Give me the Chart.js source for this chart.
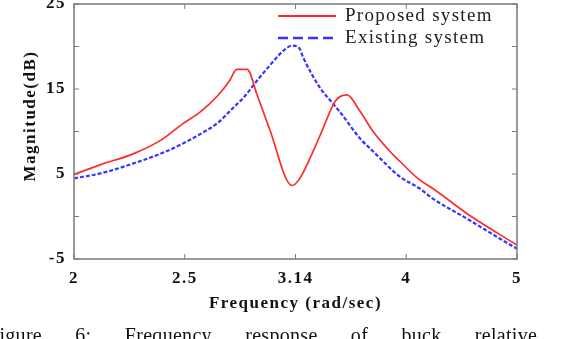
<!DOCTYPE html>
<html><head><meta charset="utf-8">
<script src="https://cdn.jsdelivr.net/npm/chart.js@4/dist/chart.umd.min.js"></script>
<style>
html,body{margin:0;padding:0;background:#fff;overflow:hidden;width:564px;height:339px;}
#wrap{position:relative;width:564px;height:339px;overflow:hidden;}
#caption{position:absolute;left:-12px;top:324px;font:20px "Liberation Serif",serif;color:#111;white-space:nowrap;word-spacing:28px;letter-spacing:0.3px;}
</style></head><body>
<div id="wrap"><canvas id="c" width="564" height="339"></canvas><div id="caption">Figure 6: Frequency response of buck relative</div></div>
<script>
// x-axis tick labels (equally spaced on the axis)
const tickLabels = ['2', '2.5', '3.14', '4', '5'];
const tickFreqs = [2, 2.5, 3.14, 4, 5];
const seriesNames = ['Proposed system', 'Existing system'];

const proposedFreq = [2.00, 2.12, 2.27, 2.40, 2.49, 2.59, 2.69, 2.76, 2.80, 2.86, 2.92, 2.99, 3.12, 3.17, 3.33, 3.45, 3.54, 3.64, 3.74, 3.87, 3.95, 4.12, 4.24, 4.55, 4.85, 5.00];
const proposedMag  = [4.95, 6.1, 7.4, 9.1, 10.9, 12.3, 14.2, 16.0, 17.3, 17.3, 14.2, 10.3, 3.65, 4.4, 9.5, 13.6, 14.3, 12.4, 10.05, 7.7, 6.5, 4.3, 3.3, 0.33, -2.16, -3.35];

const existingFreq = [2.00, 2.12, 2.27, 2.42, 2.51, 2.59, 2.69, 2.78, 2.84, 2.93, 2.98, 3.07, 3.12, 3.17, 3.20, 3.33, 3.43, 3.48, 3.64, 3.74, 3.95, 4.12, 4.24, 4.55, 4.85, 5.00];
const existingMag  = [4.5, 5.07, 6.26, 7.7, 8.8, 9.7, 11.0, 12.8, 14.0, 16.3, 17.5, 19.5, 20.1, 19.8, 18.7, 15.15, 13.3, 12.4, 9.2, 7.7, 4.7, 3.3, 2.1, -0.27, -2.64, -3.8];

const yMin = -5, yMax = 25, yStep = 5;
const yLabelled = [-5, 5, 15, 25];

// map frequency onto the equally spaced tick axis (piecewise linear between tick values)
function toPos(f) {
  for (let i = 0; i < tickFreqs.length - 1; i++) {
    if (f <= tickFreqs[i + 1]) return i + (f - tickFreqs[i]) / (tickFreqs[i + 1] - tickFreqs[i]);
  }
  return tickFreqs.length - 1;
}
const toPts = (xs, ys) => xs.map((f, i) => ({x: toPos(f), y: ys[i]}));

const RED = '#ff2b2b', BLUE = '#3535ff';
const SERIF = '"Liberation Serif", "Times New Roman", serif';

const framePlugin = {
  id: 'frame',
  beforeDraw(chart) { chart.ctx.letterSpacing = '1.5px'; },
  afterDraw(chart) {
    const {ctx, chartArea: a, scales} = chart;
    ctx.save();
    ctx.letterSpacing = '0px';
    ctx.strokeStyle = '#7a7a7a';
    ctx.lineWidth = 1.5;
    ctx.strokeRect(a.left, a.top, a.right - a.left, a.bottom - a.top);
    ctx.lineWidth = 1;
    const tl = 5;
    scales.x.ticks.forEach(t => {
      const px = scales.x.getPixelForValue(t.value);
      ctx.beginPath();
      ctx.moveTo(px, a.bottom); ctx.lineTo(px, a.bottom - tl);
      ctx.moveTo(px, a.top); ctx.lineTo(px, a.top + tl);
      ctx.stroke();
    });
    scales.y.ticks.forEach(t => {
      const py = scales.y.getPixelForValue(t.value);
      ctx.beginPath();
      ctx.moveTo(a.left, py); ctx.lineTo(a.left + tl, py);
      ctx.moveTo(a.right, py); ctx.lineTo(a.right - tl, py);
      ctx.stroke();
    });
    // y-axis title
    ctx.save();
    ctx.translate(31, 116);
    ctx.rotate(-Math.PI / 2);
    ctx.font = 'bold 17px ' + SERIF;
    ctx.letterSpacing = '1.5px';
    ctx.fillStyle = '#111';
    ctx.textAlign = 'center';
    ctx.textBaseline = 'middle';
    ctx.fillText('Magnitude(dB)', 0, 0);
    ctx.restore();
    // legend
    const ds = chart.data.datasets;
    const rows = [16, 38];
    ctx.font = '19px ' + SERIF;
    ctx.letterSpacing = '1.3px';
    ctx.textBaseline = 'middle';
    ctx.textAlign = 'left';
    ds.forEach((d, i) => {
      ctx.beginPath();
      ctx.strokeStyle = d.borderColor;
      ctx.lineWidth = i === 0 ? 2 : 2.5;
      ctx.setLineDash(i === 0 ? [] : [10, 5]);
      ctx.moveTo(278, rows[i]); ctx.lineTo(336, rows[i]);
      ctx.stroke();
      ctx.setLineDash([]);
      ctx.fillStyle = '#222';
      ctx.fillText(d.label, 345, rows[i] + 0.5);
    });
    ctx.restore();
  }
};

new Chart(document.getElementById('c'), {
  type: 'line',
  data: {
    datasets: [
      {label: seriesNames[0], data: toPts(proposedFreq, proposedMag), borderColor: RED, borderWidth: 1.7, pointRadius: 0, cubicInterpolationMode: 'monotone', fill: false},
      {label: seriesNames[1], data: toPts(existingFreq, existingMag), borderColor: BLUE, borderWidth: 2.2, borderDash: [4, 2], pointRadius: 0, cubicInterpolationMode: 'monotone', fill: false}
    ]
  },
  options: {
    responsive: false,
    animation: false,
    devicePixelRatio: 1,
    layout: {padding: {top: 4, right: 47, left: 0, bottom: 0}},
    plugins: {legend: {display: false}, tooltip: {enabled: false}},
    scales: {
      x: {
        type: 'linear', min: 0, max: tickLabels.length - 1,
        grid: {display: false, drawTicks: false},
        border: {display: false},
        ticks: {stepSize: 1, padding: 9, color: '#111', font: {family: SERIF, size: 17, weight: 'bold'},
          callback: v => tickLabels[v] ?? '', maxRotation: 0, autoSkip: false},
        title: {display: true, text: 'Frequency (rad/sec)', color: '#111', font: {family: SERIF, size: 17, weight: 'bold'}, padding: {top: 0, bottom: 25}},
        afterFit(s) { s.height = 80; s.paddingLeft = 0; s.paddingRight = 0; }
      },
      y: {
        min: yMin, max: yMax,
        grid: {display: false, drawTicks: false},
        border: {display: false},
        ticks: {stepSize: yStep, padding: 8, color: '#111', font: {family: SERIF, size: 17, weight: 'bold'},
          callback: v => yLabelled.includes(v) ? String(v) : ''},
        afterFit(s) { s.width = 74; s.paddingTop = 0; s.paddingBottom = 0; }
      }
    }
  },
  plugins: [framePlugin]
});
</script>
</body></html>
